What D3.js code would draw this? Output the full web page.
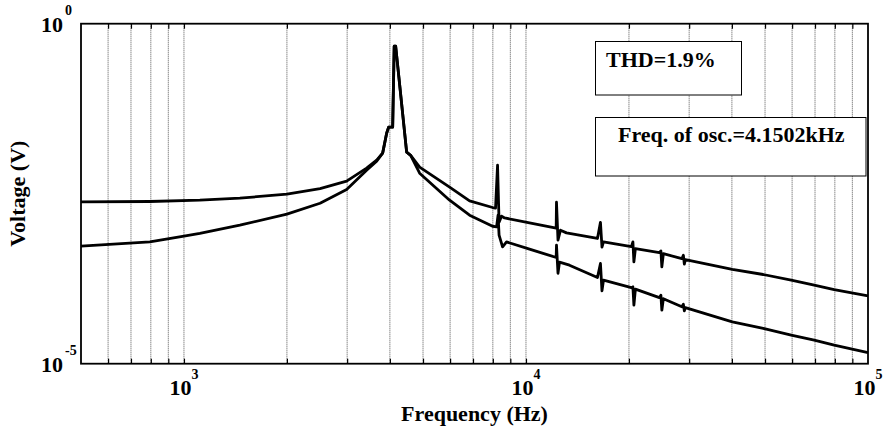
<!DOCTYPE html>
<html>
<head>
<meta charset="utf-8">
<script src="https://cdn.jsdelivr.net/npm/d3@7"></script>
<style>
  body { margin: 0; background: #fff; }
  svg { display: block; }
  text { font-family: "Liberation Serif", "Times New Roman", serif; font-weight: bold; fill: #000; }
</style>
</head>
<body>
<svg id="chart"></svg>
<script>
// spectrum: frequency (Hz) / voltage (V)
const freqUpper = [500, 795, 1113, 1457, 2000, 2500, 2990, 3420, 3660, 3810, 3914, 3967, 4076, 4118, 4159,
  4478, 4601, 4887, 5980, 6841, 7987, 8147, 8258, 8343, 8484, 8659, 10240, 12255, 12280, 12405, 12614,
  13136, 16180, 16510, 16680, 16850, 20330, 20540, 20680, 20890, 24550, 24800, 24960, 25220,
  28560, 28850, 29040, 29240, 40110, 49390, 59630, 69610, 79630, 100000];
const voltUpper = [0.00240, 0.00243, 0.00254, 0.00272, 0.00311, 0.00375, 0.00483, 0.00750, 0.00984, 0.0125,
  0.0245, 0.0301, 0.0301, 0.467, 0.467, 0.0129, 0.0116, 0.00776, 0.00394, 0.00248, 0.00198, 0.00194,
  0.00830, 0.00120, 0.00148, 0.00139, 0.00118, 0.000983, 0.00237, 0.000655, 0.000919, 0.000839,
  0.000694, 0.00120, 0.000517, 0.000618, 0.000526, 0.000618, 0.000314, 0.000491, 0.000429, 0.000456,
  0.000265, 0.000415, 0.000350, 0.000394, 0.000291, 0.000338, 0.000243, 0.000205, 0.000169, 0.000143,
  0.000123, 0.0000993];

const freqLower = [500, 795, 1000, 1113, 1457, 2000, 2500, 2990, 3420, 3660, 3810, 3914, 3967, 4076, 4118,
  4159, 4478, 4601, 4887, 5980, 6841, 7987, 8204, 8287, 8343, 8541, 8774, 10240, 12255, 12280, 12405,
  12530, 13400, 16180, 16510, 16680, 16850, 20330, 20540, 20680, 20890, 24550, 24800, 24960, 25220,
  28560, 28850, 29040, 29240, 40110, 49390, 59630, 69610, 79630, 100000];
const voltLower = [0.000535, 0.000618, 0.000750, 0.000822, 0.00109, 0.00158, 0.00229, 0.00365, 0.00701,
  0.00951, 0.0125, 0.0245, 0.0301, 0.0301, 0.467, 0.467, 0.0129, 0.0116, 0.00633, 0.00254, 0.00153,
  0.00105, 0.00103, 0.00153, 0.000776, 0.000522, 0.000618, 0.000483, 0.000365, 0.000553, 0.000214,
  0.000311, 0.000281, 0.000185, 0.000298, 0.000118, 0.000169, 0.000131, 0.000135, 0.0000725, 0.000125,
  0.0000935, 0.000102, 0.0000612, 0.0000904, 0.0000689, 0.0000750, 0.0000598, 0.0000666, 0.0000412,
  0.0000330, 0.0000263, 0.0000222, 0.0000187, 0.0000146];

const gridFreqs = [600, 700, 800, 900, 1000, 2000, 3000, 4000, 5000, 6000, 7000, 8000, 9000, 10000,
  20000, 30000, 40000, 50000, 60000, 70000, 80000, 90000];
const xLabelVals = [1e3, 1e4, 1e5];
const xLabelExps = ["3", "4", "5"];
const yLabelVals = [1, 1e-5];
const yLabelExps = ["0", "-5"];
const thdText = "THD=1.9%";
const oscText = "Freq. of osc.=4.1502kHz";

const W = 896, H = 430;
const margin = {top: 23.7, right: 28, bottom: 66.3, left: 81};

const svg = d3.select("#chart").attr("width", W).attr("height", H);

const x = d3.scaleLog().domain([500, 1e5]).range([margin.left, W - margin.right]);
const y = d3.scaleLog().domain([1e-5, 1]).range([H - margin.bottom, margin.top]);

// dotted vertical grid
svg.append("g")
  .selectAll("line")
  .data(gridFreqs)
  .enter().append("line")
  .attr("x1", d => x(d)).attr("x2", d => x(d))
  .attr("y1", y(1)).attr("y2", y(1e-5))
  .attr("stroke", "#555")
  .attr("stroke-width", 1)
  .attr("stroke-dasharray", "1,1");

// ticks top and bottom, pointing inwards
svg.append("g")
  .attr("transform", `translate(0, ${y(1e-5)})`)
  .call(d3.axisBottom(x).tickValues(gridFreqs).tickSize(-5).tickFormat(""))
  .call(g => g.select(".domain").remove())
  .call(g => g.selectAll("line").attr("stroke-width", 1.2));
svg.append("g")
  .attr("transform", `translate(0, ${y(1)})`)
  .call(d3.axisTop(x).tickValues(gridFreqs).tickSize(-5).tickFormat(""))
  .call(g => g.select(".domain").remove())
  .call(g => g.selectAll("line").attr("stroke-width", 1.2));

// curves
const line = d3.line()
  .x(d => x(d[0]))
  .y(d => y(d[1]));

[[freqUpper, voltUpper], [freqLower, voltLower]].forEach(([f, v]) => {
  svg.append("path")
    .datum(f.map((d, i) => [d, v[i]]))
    .attr("d", line)
    .attr("fill", "none")
    .attr("stroke", "#000")
    .attr("stroke-width", 2.8)
    .attr("stroke-linejoin", "round");
});

// frame
svg.append("rect")
  .attr("x", x(500)).attr("y", y(1))
  .attr("width", x(1e5) - x(500)).attr("height", y(1e-5) - y(1))
  .attr("fill", "none").attr("stroke", "#000").attr("stroke-width", 1.8);

// x tick labels
xLabelVals.forEach((v, i) => {
  const t = svg.append("text")
    .attr("x", x(v)).attr("y", y(1e-5) + 31.5)
    .attr("text-anchor", "middle")
    .style("font-size", "22px")
    .text("10");
  t.append("tspan").attr("dy", -16).style("font-size", "14px").text(xLabelExps[i]);
});

// y tick labels
yLabelVals.forEach((v, i) => {
  svg.append("text")
    .attr("x", x(500) - 18).attr("y", y(v) + 8)
    .attr("text-anchor", "end")
    .style("font-size", "22px")
    .text("10");
  svg.append("text")
    .attr("x", x(500) - 16).attr("y", y(v) - 8.5)
    .style("font-size", "14px")
    .text(yLabelExps[i]);
});

// axis titles
svg.append("text")
  .attr("x", (x(500) + x(1e5)) / 2).attr("y", 420.5)
  .attr("text-anchor", "middle")
  .style("font-size", "22px")
  .text("Frequency (Hz)");
svg.append("text")
  .attr("transform", `translate(25, ${(y(1) + y(1e-5)) / 2}) rotate(-90)`)
  .attr("text-anchor", "middle")
  .style("font-size", "22px")
  .text("Voltage (V)");

// annotation boxes
function note(x0, y0, w, h, tx, ty, txt) {
  svg.append("rect")
    .attr("x", x0).attr("y", y0).attr("width", w).attr("height", h)
    .attr("fill", "#fff").attr("stroke", "#000").attr("stroke-width", 1);
  svg.append("text")
    .attr("x", tx).attr("y", ty)
    .style("font-size", "22px")
    .text(txt);
}
note(595.5, 41.5, 146, 53.5, 606, 66.5, thdText);
note(595.5, 117.5, 270.5, 58.5, 618, 141.5, oscText);
</script>
</body>
</html>
